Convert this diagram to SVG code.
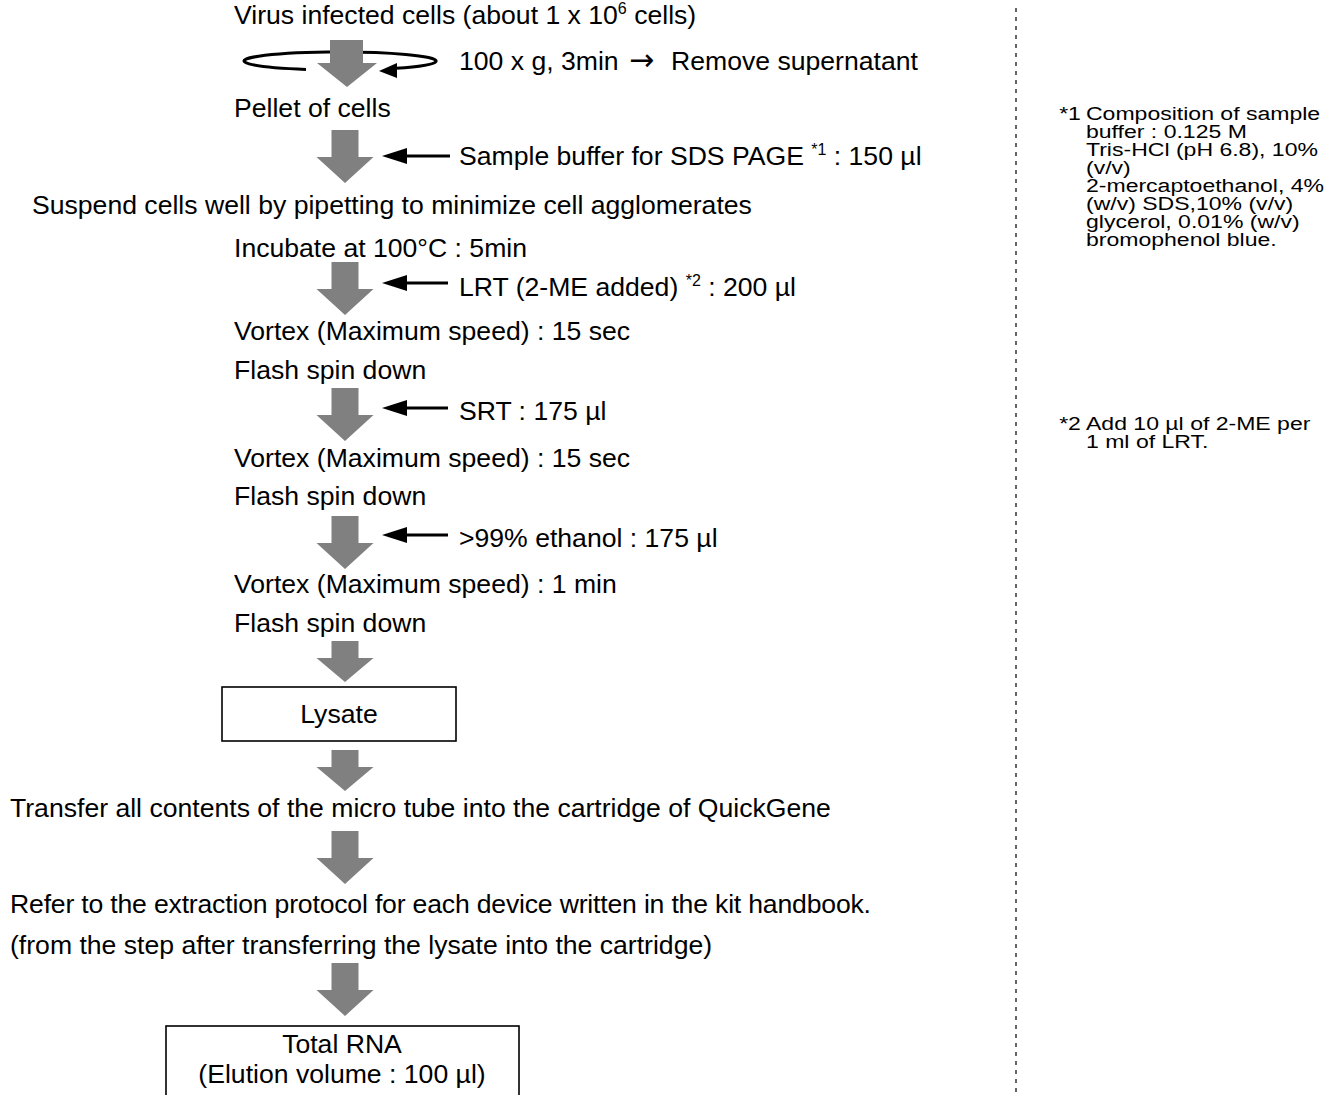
<svg xmlns="http://www.w3.org/2000/svg" width="1335" height="1095" viewBox="0 0 1335 1095">
<style>
text{font-family:"Liberation Sans",Arial,sans-serif;fill:#000}
.t{font-size:26.6px}
.n{font-size:18px}
.sup{font-size:16px}
.blk{fill:#808080}
.thin{stroke:#000;stroke-width:3;fill:none}
.box{fill:#fff;stroke:#000;stroke-width:1.6}
</style>
<defs>
<path id="barrow" class="blk" d="M-13.5 0H13.5V27H28.5L0 53L-28.5 27H-13.5Z"/>
<path id="barrowS" class="blk" d="M-13.5 0H13.5V17H28.5L0 41L-28.5 17H-13.5Z"/>
</defs>

<g id="connectors">
  <!-- spin symbol -->
  <path class="thin" d="M306 69.4 A96 9 0 1 1 396 68.3"/>
  <polygon points="379,71 397,63 397,78" fill="#000"/>
  <path class="blk" d="M330 40H363V63H377L347 87L317 63H330Z"/>
  <use href="#barrow" x="345" y="130"/>
  <use href="#barrow" x="345" y="262"/>
  <use href="#barrow" x="345" y="388"/>
  <use href="#barrow" x="345" y="516"/>
  <use href="#barrowS" x="345" y="641"/>
  <use href="#barrowS" x="345" y="750"/>
  <use href="#barrow" x="345" y="831"/>
  <use href="#barrow" x="345" y="963"/>
  <!-- addition arrows -->
  <line class="thin" x1="450" y1="156" x2="406" y2="156"/><polygon points="382,156 407,148 407,164" fill="#000"/>
  <line class="thin" x1="448" y1="283" x2="406" y2="283"/><polygon points="382,283 407,275 407,291" fill="#000"/>
  <line class="thin" x1="448" y1="408" x2="406" y2="408"/><polygon points="382,408 407,400 407,416" fill="#000"/>
  <line class="thin" x1="448" y1="535" x2="406" y2="535"/><polygon points="382,535 407,527 407,543" fill="#000"/>
  <!-- separator -->
  <line x1="1016" y1="8" x2="1016" y2="1095" stroke="#333" stroke-width="1.5" stroke-dasharray="4 5"/>
</g>

<g id="n-virus"><text class="t" x="234" y="24">Virus infected cells (about 1 x 10<tspan class="sup" dy="-10">6</tspan><tspan dy="10"> cells)</tspan></text></g>
<g id="n-spin"><text class="t" x="459" y="70">100 x g, 3min <tspan x="629" font-family="DejaVu Sans" font-size="30">→</tspan><tspan x="671">Remove supernatant</tspan></text></g>
<g id="n-pellet"><text class="t" x="234" y="117">Pellet of cells</text></g>
<g id="n-sample"><text class="t" x="459" y="165">Sample buffer for SDS PAGE <tspan class="sup" dy="-10">*1</tspan><tspan dy="10"> : 150 µl</tspan></text></g>
<g id="n-suspend"><text class="t" x="32" y="214">Suspend cells well by pipetting to minimize cell agglomerates</text></g>
<g id="n-incubate"><text class="t" x="234" y="257">Incubate at 100°C : 5min</text></g>
<g id="n-lrt"><text class="t" x="459" y="296">LRT (2-ME added) <tspan class="sup" dy="-10">*2</tspan><tspan dy="10"> : 200 µl</tspan></text></g>
<g id="n-vortex1"><text class="t" x="234" y="340">Vortex (Maximum speed) : 15 sec</text></g>
<g id="n-flash1"><text class="t" x="234" y="379">Flash spin down</text></g>
<g id="n-srt"><text class="t" x="459" y="420">SRT : 175 µl</text></g>
<g id="n-vortex2"><text class="t" x="234" y="467">Vortex (Maximum speed) : 15 sec</text></g>
<g id="n-flash2"><text class="t" x="234" y="505">Flash spin down</text></g>
<g id="n-ethanol"><text class="t" x="459" y="547">&gt;99% ethanol : 175 µl</text></g>
<g id="n-vortex3"><text class="t" x="234" y="593">Vortex (Maximum speed) : 1 min</text></g>
<g id="n-flash3"><text class="t" x="234" y="632">Flash spin down</text></g>
<g id="n-lysate"><rect class="box" x="222" y="687" width="234" height="54"/><text class="t" x="339" y="723" text-anchor="middle">Lysate</text></g>
<g id="n-transfer"><text class="t" x="10" y="817">Transfer all contents of the micro tube into the cartridge of QuickGene</text></g>
<g id="n-refer"><text class="t" x="10" y="913" textLength="861" lengthAdjust="spacing">Refer to the extraction protocol for each device written in the kit handbook.</text><text class="t" x="10" y="954">(from the step after transferring the lysate into the cartridge)</text></g>
<g id="n-total"><rect class="box" x="166" y="1026" width="353" height="80"/><text class="t" x="342" y="1053" text-anchor="middle">Total RNA</text><text class="t" x="342" y="1083" text-anchor="middle">(Elution volume : 100 µl)</text></g>

<g id="n-note1" transform="translate(1086 0) scale(1.28 1)">
<text class="n" x="-21" y="120">*1</text>
<text class="n" x="0" y="120">Composition of sample</text>
<text class="n" x="0" y="138">buffer : 0.125 M</text>
<text class="n" x="0" y="156">Tris-HCl (pH 6.8), 10%</text>
<text class="n" x="0" y="174">(v/v)</text>
<text class="n" x="0" y="192">2-mercaptoethanol, 4%</text>
<text class="n" x="0" y="210">(w/v) SDS,10% (v/v)</text>
<text class="n" x="0" y="228">glycerol, 0.01% (w/v)</text>
<text class="n" x="0" y="246">bromophenol blue.</text>
</g>
<g id="n-note2" transform="translate(1086 0) scale(1.28 1)">
<text class="n" x="-21" y="430">*2</text>
<text class="n" x="0" y="430">Add 10 µl of 2-ME per</text>
<text class="n" x="0" y="448">1 ml of LRT.</text>
</g>
</svg>
